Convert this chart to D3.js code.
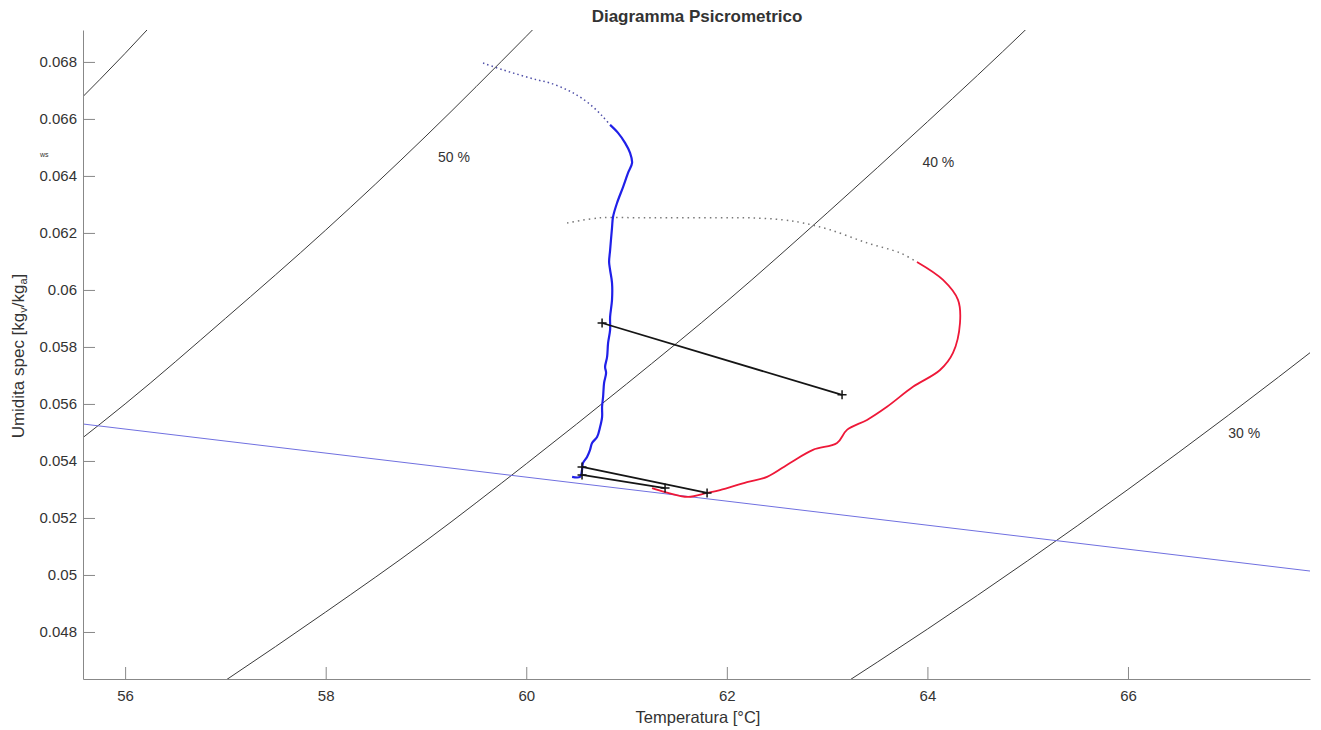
<!DOCTYPE html>
<html>
<head>
<meta charset="utf-8">
<script src="https://cdn.jsdelivr.net/npm/d3@7"></script>
<style>
  body { margin: 0; background: #fff; }
  svg text { font-family: "Liberation Sans", Arial, sans-serif; fill: #333; }
</style>
</head>
<body>
<svg width="1321" height="730"></svg>
<script>
// axis ticks
const xTicks = [56, 58, 60, 62, 64, 66];
const yTicks = [0.048, 0.05, 0.052, 0.054, 0.056, 0.058, 0.06, 0.062, 0.064, 0.066, 0.068];
const yTickLabels = ["0.048", "0.05", "0.052", "0.054", "0.056", "0.058", "0.06", "0.062", "0.064", "0.066", "0.068"];

// relative humidity curves (temperature, specific humidity)
const rh60T = [55.5, 56, 56.5];
const rh60W = [0.0665, 0.0683, 0.0702];
const rh50T = [55.5, 56, 57, 58, 59, 60, 61];
const rh50W = [0.0546, 0.0560, 0.0590, 0.0621, 0.0654, 0.0689, 0.0725];
const rh40T = [56, 57, 58, 59, 60, 61, 62, 63, 64, 65, 66];
const rh40W = [0.0440, 0.0463, 0.0487, 0.0512, 0.0539, 0.0567, 0.0596, 0.0627, 0.0659, 0.0692, 0.0727];
const rh30T = [63, 64, 65, 66, 67, 68];
const rh30W = [0.0458, 0.0481, 0.0505, 0.0530, 0.0556, 0.0583];

const rhLabels = ["50 %", "40 %", "30 %"];
const rhLabelT = [59.12, 63.95, 67.0];
const rhLabelW = [0.06449, 0.06432, 0.05481];

// straight blue reference line
const refT = [55.5, 68];
const refW = [0.05533, 0.05006];

// blue trajectory: dotted start then solid
const blueDotT = [59.569, 59.769, 59.938, 60.108, 60.237, 60.407, 60.536, 60.666, 60.766, 60.836];
const blueDotW = [0.06796, 0.06772, 0.06754, 0.06737, 0.06726, 0.06702, 0.06677, 0.06642, 0.06607, 0.06579];
const blueT = [60.836, 60.915, 60.985, 61.035, 61.055, 61.015, 60.965, 60.905, 60.865, 60.855, 60.836, 60.826,
  60.836, 60.855, 60.855, 60.836, 60.836, 60.816, 60.806, 60.786, 60.796, 60.776, 60.766, 60.756, 60.756,
  60.736, 60.706, 60.656, 60.636, 60.606, 60.566, 60.556, 60.536, 60.457];
const blueW = [0.06579, 0.06551, 0.06516, 0.06481, 0.06446, 0.06411, 0.06361, 0.06305, 0.06256, 0.06218, 0.06140, 0.06098,
  0.06070, 0.06025, 0.05965, 0.05905, 0.05860, 0.05814, 0.05765, 0.05730, 0.05709, 0.05674, 0.05625, 0.05590, 0.05554,
  0.05519, 0.05484, 0.05463, 0.05439, 0.05414, 0.05393, 0.05368, 0.05344, 0.05344];

// red trajectory: dotted start then solid
const redDotT = [60.407, 60.736, 61.135, 61.404, 61.902, 62.231, 62.560, 62.760, 63.029, 63.398, 63.727, 63.896];
const redDotW = [0.06235, 0.06253, 0.06253, 0.06253, 0.06253, 0.06253, 0.06246, 0.06235, 0.06211, 0.06165, 0.06130, 0.06098];
const redT = [63.896, 64.156, 64.305, 64.325, 64.255, 64.126, 63.856, 63.597, 63.398, 63.198, 63.099, 62.859,
  62.630, 62.401, 62.201, 61.932, 61.803, 61.613, 61.384, 61.254];
const redW = [0.06098, 0.06035, 0.05965, 0.05884, 0.05779, 0.05719, 0.05660, 0.05590, 0.05544, 0.05509, 0.05463, 0.05439,
  0.05393, 0.05344, 0.05326, 0.05298, 0.05288, 0.05274, 0.05291, 0.05305];

// black segments with + markers (start T, start w, end T, end w)
const segT1 = [60.756, 60.556, 60.556];
const segW1 = [0.05884, 0.05379, 0.05351];
const segT2 = [63.149, 61.803, 61.384];
const segW2 = [0.05632, 0.05288, 0.05305];

const svg = d3.select("svg");
const margin = {top: 30, right: 11, bottom: 51, left: 83};
const width = +svg.attr("width") - margin.left - margin.right;
const height = +svg.attr("height") - margin.top - margin.bottom;

const x = d3.scaleLinear().domain([55.58, 67.815]).range([0, width]);
const y = d3.scaleLinear().domain([0.04635, 0.06912]).range([height, 0]);

const g = svg.append("g").attr("transform", `translate(${margin.left},${margin.top})`);

svg.append("defs").append("clipPath").attr("id", "plot")
  .append("rect").attr("width", width).attr("height", height);

const zip = (ts, ws) => ts.map((t, i) => [t, ws[i]]);
const line = d3.line().x(d => x(d[0])).y(d => y(d[1]));
const smooth = d3.line().x(d => x(d[0])).y(d => y(d[1])).curve(d3.curveMonotoneX);
const round = d3.line().x(d => x(d[0])).y(d => y(d[1])).curve(d3.curveCatmullRom.alpha(0.5));

const plot = g.append("g").attr("clip-path", "url(#plot)");

// RH curves
[[rh60T, rh60W], [rh50T, rh50W], [rh40T, rh40W], [rh30T, rh30W]].forEach(([ts, ws]) => {
  plot.append("path")
    .attr("d", smooth(zip(ts, ws)))
    .attr("fill", "none")
    .attr("stroke", "#3a3a3a")
    .attr("stroke-width", 1);
});

// reference line
plot.append("path")
  .attr("d", line(zip(refT, refW)))
  .attr("fill", "none")
  .attr("stroke", "#7070e0")
  .attr("stroke-width", 1);

rhLabels.forEach((lab, i) => {
  g.append("text")
    .attr("x", x(rhLabelT[i]))
    .attr("y", y(rhLabelW[i]))
    .attr("font-size", 14)
    .text(lab);
});

// trajectories
plot.append("path")
  .attr("d", round(zip(blueDotT, blueDotW)))
  .attr("fill", "none")
  .attr("stroke", "#5050a8")
  .attr("stroke-width", 1.5)
  .attr("stroke-dasharray", "1.5,3");

plot.append("path")
  .attr("d", round(zip(redDotT, redDotW)))
  .attr("fill", "none")
  .attr("stroke", "#777")
  .attr("stroke-width", 1.5)
  .attr("stroke-dasharray", "1.5,4");

plot.append("path")
  .attr("d", round(zip(blueT, blueW)))
  .attr("fill", "none")
  .attr("stroke", "#2020e8")
  .attr("stroke-width", 2.2)
  .attr("stroke-linejoin", "round");

plot.append("path")
  .attr("d", round(zip(redT, redW)))
  .attr("fill", "none")
  .attr("stroke", "#ee1838")
  .attr("stroke-width", 1.8)
  .attr("stroke-linejoin", "round");

// black segments and markers
segT1.forEach((t, i) => {
  plot.append("line")
    .attr("x1", x(t)).attr("y1", y(segW1[i]))
    .attr("x2", x(segT2[i])).attr("y2", y(segW2[i]))
    .attr("stroke", "#151515")
    .attr("stroke-width", 1.8);
  [[t, segW1[i]], [segT2[i], segW2[i]]].forEach(p => {
    plot.append("path")
      .attr("transform", `translate(${x(p[0])},${y(p[1])})`)
      .attr("d", "M-4.5,0H4.5M0,-4.5V4.5")
      .attr("stroke", "#151515")
      .attr("stroke-width", 1.5);
  });
});

// axes (ticks inward, no box)
const xAxis = g.append("g")
  .attr("transform", `translate(0,${height})`)
  .call(d3.axisBottom(x).tickValues(xTicks).tickSizeInner(-12).tickSizeOuter(0).tickPadding(11));
const yAxis = g.append("g")
  .call(d3.axisLeft(y).tickValues(yTicks).tickFormat((d, i) => yTickLabels[i])
    .tickSizeInner(-12).tickSizeOuter(0).tickPadding(6));

[xAxis, yAxis].forEach(a => {
  a.select(".domain").attr("stroke", "#888");
  a.selectAll(".tick line").attr("stroke", "#888");
  a.selectAll(".tick text").attr("font-size", 15).attr("fill", "#444")
    .attr("font-family", "Liberation Sans, Arial, sans-serif");
});

// titles
svg.append("text")
  .attr("x", 697).attr("y", 22)
  .attr("text-anchor", "middle")
  .attr("font-size", 17)
  .attr("font-weight", "bold")
  .text("Diagramma Psicrometrico");

svg.append("text")
  .attr("x", 698).attr("y", 723)
  .attr("text-anchor", "middle")
  .attr("font-size", 16.5)
  .text("Temperatura [°C]");

const yl = svg.append("text")
  .attr("transform", "translate(24,356) rotate(-90)")
  .attr("text-anchor", "middle")
  .attr("font-size", 17);
yl.append("tspan").text("Umidita spec [kg");
yl.append("tspan").attr("font-size", 11).attr("dy", 3).text("v");
yl.append("tspan").attr("dy", -3).text("/kg");
yl.append("tspan").attr("font-size", 11).attr("dy", 3).text("a");
yl.append("tspan").attr("dy", -3).text("]");

svg.append("text")
  .attr("x", 40).attr("y", 157)
  .attr("font-size", 7)
  .attr("fill", "#555")
  .text("ws");
</script>
</body>
</html>
